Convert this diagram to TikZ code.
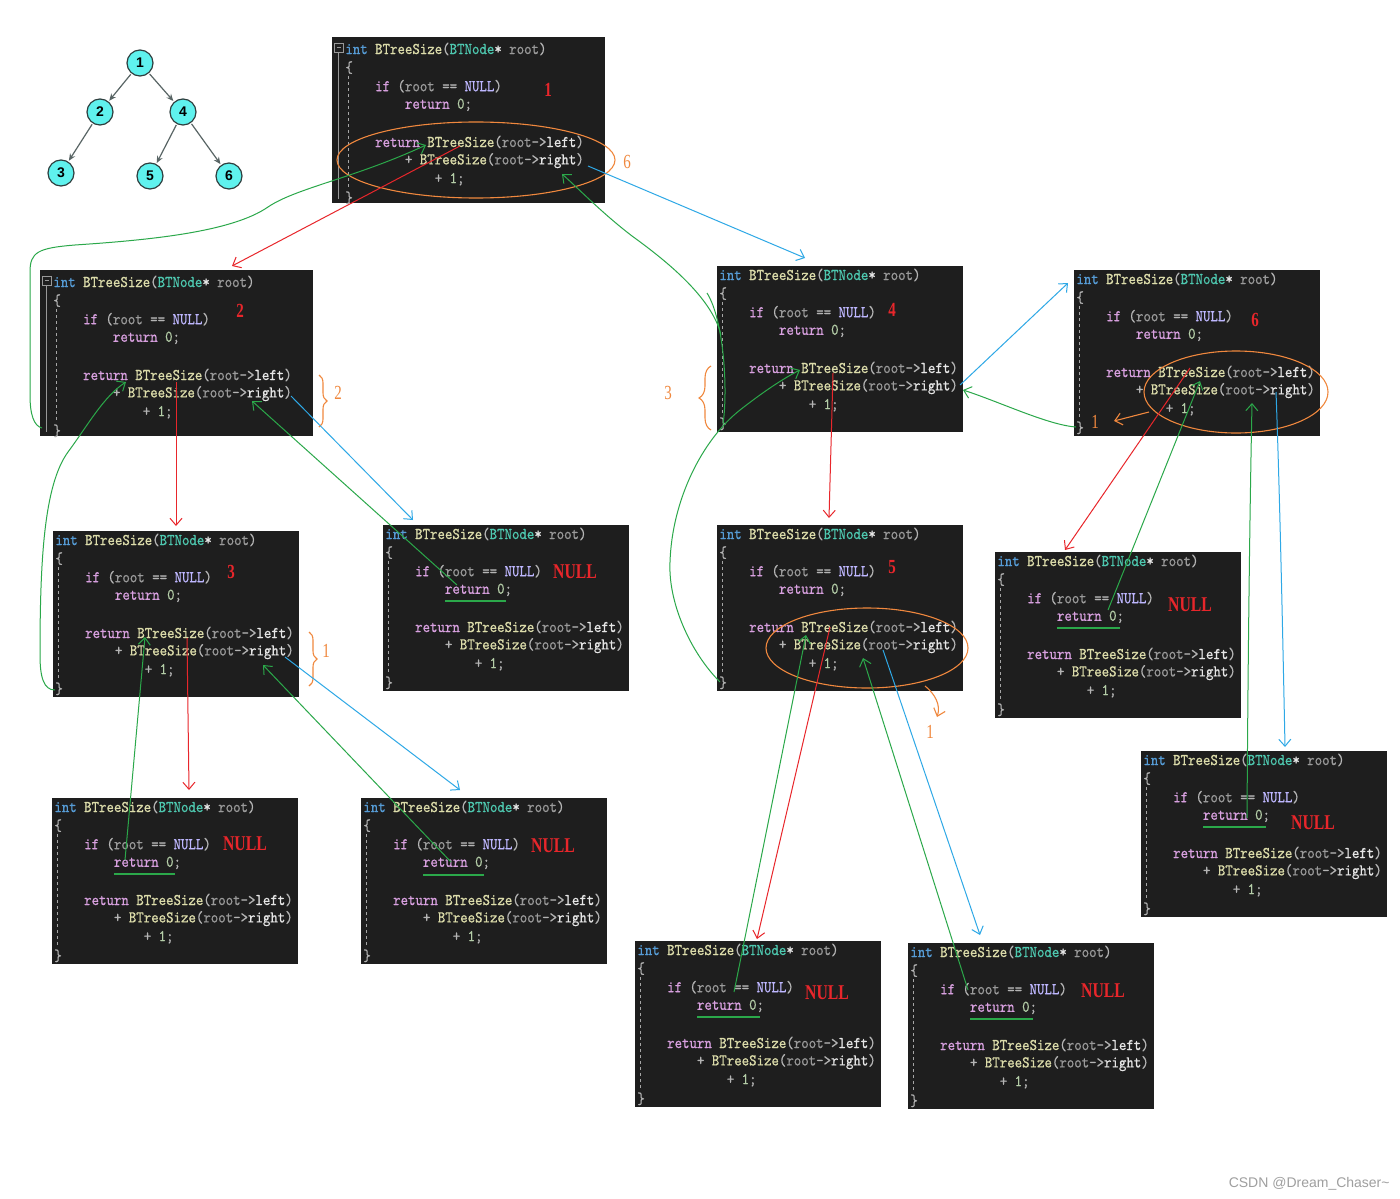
\documentclass[tikz,border=0pt]{standalone}
\usepackage{fontspec}
\usetikzlibrary{arrows.meta,decorations.pathreplacing,shapes.geometric}
\newfontfamily\codefont{lmmono10-regular.otf}[FakeStretch=0.865,FakeBold=0.6]
\newfontfamily\annfont[FakeStretch=0.75]{Liberation Serif}
\newfontfamily\sansf{Liberation Sans}
\definecolor{bg}{HTML}{1E1E1E}
\definecolor{cint}{HTML}{569CD6}
\definecolor{cfun}{HTML}{DCDCAA}
\definecolor{ctype}{HTML}{4EC9B0}
\definecolor{cparam}{HTML}{9A9A9A}
\definecolor{ckw}{HTML}{D8A0DF}
\definecolor{cmac}{HTML}{BEB7FF}
\definecolor{cnum}{HTML}{B5CEA8}
\definecolor{ctext}{HTML}{B4B4B4}
\definecolor{cwhite}{HTML}{E6E6E6}
\definecolor{annred}{HTML}{E8262B}
\definecolor{annblue}{HTML}{2EA8E6}
\definecolor{anngreen}{HTML}{2BA84A}
\definecolor{annorange}{HTML}{F0883E}
\definecolor{treefill}{HTML}{5FF2EE}
\definecolor{treeline}{HTML}{2F3F3F}
\newcommand\codeLa{\textcolor{cint}{int} \textcolor{cfun}{BTreeSize}(\textcolor{ctype}{BTNode}\textcolor{cwhite}{*} \textcolor{cparam}{root})}
\newcommand\codeLc{\textcolor{ckw}{if} (\textcolor{cparam}{root} == \textcolor{cmac}{NULL})}
\newcommand\codeLd{\textcolor{ckw}{return} \textcolor{cnum}{0};}
\newcommand\codeLe{\textcolor{ckw}{return} \textcolor{cfun}{BTreeSize}(\textcolor{cparam}{root}->\textcolor{cwhite}{left})}
\newcommand\codeLf{+ \textcolor{cfun}{BTreeSize}(\textcolor{cparam}{root}->\textcolor{cwhite}{right})}
\newcommand\codeLg{+ \textcolor{cnum}{1};}
\tikzset{
  x=0.5pt, y=-0.5pt,
  codebg/.style={fill=bg, draw=none, inner sep=0pt, outer sep=0pt, anchor=north west, minimum height=83pt},
  code/.style={anchor=west, inner sep=0pt, text=ctext, font=\codefont\fontsize{8.2}{9}\selectfont},
  guide/.style={draw=gray!70, dashed, dash pattern=on 1.5pt off 1.5pt, line width=0.4pt},
  rednum/.style={text=annred, inner sep=0pt, font=\annfont\bfseries\fontsize{10}{10}\selectfont},
  rednull/.style={text=annred, inner sep=0pt, font=\annfont\bfseries\fontsize{10.5}{10}\selectfont},
  ornum/.style={text=annorange, inner sep=0pt, font=\annfont\fontsize{10}{10}\selectfont},
  tip/.style={-{Straight Barb[length=3.5pt,width=6pt]}},
  redl/.style={draw=annred, line width=0.5pt, tip},
  bluel/.style={draw=annblue, line width=0.5pt, tip},
  greenl/.style={draw=anngreen, line width=0.5pt, tip},
  greenu/.style={draw=anngreen, line width=0.6pt},
  orl/.style={draw=annorange, line width=0.55pt},
  orell/.style={ellipse, draw=annorange, line width=0.55pt, inner sep=0pt},
  tnode/.style={circle, draw=treeline, fill=treefill, line width=0.6pt, minimum size=13pt, inner sep=0pt, font=\sansf\bfseries\fontsize{7}{7}\selectfont},
  tedge/.style={draw=treeline!80, line width=0.6pt, -{Stealth[length=3.5pt,width=3pt]}, shorten <=0.5pt, shorten >=0.5pt}
}
\newcommand\codebox[6]{%
  \node[codebg, minimum width=#6] (#1) at (#2,#3) {};
  \begin{scope}[shift={(#2+#4,#3+#5)}]
    \draw[guide] (5,36) -- (5,148);
    \node[code] (#1-a) at (2,9) {\codeLa};
    \node[code] (#1-b) at (2,27.6) {\{};
    \node[code] (#1-c) at (31.8,46.2) {\codeLc};
    \node[code] (#1-d) at (61.6,64.8) {\codeLd};
    \node[code] (#1-e) at (31.8,102) {\codeLe};
    \node[code] (#1-f) at (61.6,120.6) {\codeLf};
    \node[code] (#1-g) at (91.4,139.2) {\codeLg};
    \node[code] (#1-h) at (2,157.8) {\}};
  \end{scope}}
\newcommand\widemark[2]{%
  \begin{scope}[shift={(#1,#2)}]
    \draw[gray!80, line width=0.4pt] (2.5,6.5) rectangle (11,15);
    \draw[gray!80, line width=0.4pt] (4.5,10.75) -- (9,10.75);
    \draw[gray!80, line width=0.4pt] (6.75,15) -- (6.75,162);
  \end{scope}}
\begin{document}
\begin{tikzpicture}
\useasboundingbox (0,0) rectangle (1400,1198);
\fill[white] (0,0) rectangle (1400,1198);

% ---------- tree ----------
\node[tnode] (t1) at (140,63) {1};
\node[tnode] (t2) at (100,112) {2};
\node[tnode] (t4) at (183,112) {4};
\node[tnode] (t3) at (61,173) {3};
\node[tnode] (t5) at (150,176) {5};
\node[tnode] (t6) at (229,176) {6};
\draw[tedge] (t1) -- (t2);
\draw[tedge] (t1) -- (t4);
\draw[tedge] (t2) -- (t3);
\draw[tedge] (t4) -- (t5);
\draw[tedge] (t4) -- (t6);

% ---------- code boxes ----------
\codebox{B1}{332}{37}{11}{3}{136.5pt}
\widemark{332}{37}
\codebox{B2}{40}{270}{11}{3}{136.5pt}
\widemark{40}{270}
\codebox{B3}{53}{531}{0}{0}{123pt}
\codebox{N1}{383}{525}{0}{0}{123pt}
\codebox{N2}{52}{798}{0}{0}{123pt}
\codebox{N3}{361}{798}{0}{0}{123pt}
\codebox{B4}{717}{266}{0}{0}{123pt}
\codebox{B6}{1074}{270}{0}{0}{123pt}
\codebox{B5}{717}{525}{0}{0}{123pt}
\codebox{N4}{995}{552}{0}{0}{123pt}
\codebox{N5}{1141}{751}{0}{0}{123pt}
\codebox{N6}{635}{941}{0}{0}{123pt}
\codebox{N7}{908}{943}{0}{0}{123pt}

% ---------- red step numbers ----------
\node[rednum] (n1) at (548,90) {1};
\node[rednum] (n2) at (240,311) {2};
\node[rednum] (n3) at (231,572) {3};
\node[rednum] (n4) at (892,310) {4};
\node[rednum] (n5) at (892,567) {5};
\node[rednum] (n6) at (1255,320) {6};
\node[rednull] (u1) at (575,572) {NULL};
\node[rednull] (u2) at (245,844) {NULL};
\node[rednull] (u3) at (553,846) {NULL};
\node[rednull] (u4) at (1190,605) {NULL};
\node[rednull] (u5) at (1313,823) {NULL};
\node[rednull] (u6) at (827,993) {NULL};
\node[rednull] (u7) at (1103,991) {NULL};

% ---------- green underlines of "return 0;" ----------
\draw[greenu] (445,601) -- (506,601);
\draw[greenu] (114,874) -- (175,874);
\draw[greenu] (423,875) -- (484,875);
\draw[greenu] (1057,628) -- (1120,628);
\draw[greenu] (1203,827) -- (1266,827);
\draw[greenu] (697,1017) -- (760,1017);
\draw[greenu] (970,1019) -- (1033,1019);

% ---------- orange marks ----------
\node[orell, minimum width=139pt, minimum height=38pt] (E1) at (476,160) {};
\node[ornum] (o6) at (627,162) {6};
\node[orell, minimum width=101pt, minimum height=40pt] (E2) at (867,648) {};
\node[orell, minimum width=92pt, minimum height=41pt] (E3) at (1236,392) {};
\draw[orl, decorate, decoration={brace, amplitude=4pt}] (319,375) -- (319,427);
\node[ornum] (o2) at (338,393) {2};
\draw[orl, decorate, decoration={brace, amplitude=4pt}] (309,632) -- (309,686);
\node[ornum] (o1a) at (326,651) {1};
\draw[orl, decorate, decoration={brace, amplitude=6pt}] (711,430) -- (711,366);
\node[ornum] (o3) at (668,393) {3};
\coordinate (ob6s) at (1149,412);
\coordinate (ob6e) at (1114,421);
\draw[orl, tip] (ob6s) -- (ob6e);
\node[ornum] (o1b) at (1095,422) {1};
\coordinate (ob5s) at (925,686);
\coordinate (ob5e) at (937,717);
\draw[orl, tip] (ob5s) .. controls (935,694) and (941,705) .. (ob5e);
\node[ornum] (o1c) at (930,732) {1};

% ---------- red calls (left) ----------
\coordinate (r1s) at (460,146); \coordinate (r1e) at (232,266);
\coordinate (r2s) at (176,382); \coordinate (r2e) at (176,526);
\coordinate (r3s) at (187,638); \coordinate (r3e) at (189,790);
\coordinate (r4s) at (833,373); \coordinate (r4e) at (829,518);
\coordinate (r5s) at (830,627); \coordinate (r5e) at (757,939);
\coordinate (r6s) at (1190,368); \coordinate (r6e) at (1065,550);
\draw[redl] (r1s) -- (r1e);
\draw[redl] (r2s) -- (r2e);
\draw[redl] (r3s) -- (r3e);
\draw[redl] (r4s) -- (r4e);
\draw[redl] (r5s) -- (r5e);
\draw[redl] (r6s) -- (r6e);

% ---------- blue calls (right) ----------
\coordinate (b1s) at (588,166); \coordinate (b1e) at (805,258);
\coordinate (b2s) at (291,396); \coordinate (b2e) at (413,520);
\coordinate (b3s) at (285,657); \coordinate (b3e) at (460,790);
\coordinate (b4s) at (960,385); \coordinate (b4e) at (1068,283);
\coordinate (b5s) at (883,650); \coordinate (b5e) at (980,935);
\coordinate (b6s) at (1276,392); \coordinate (b6e) at (1285,747);
\draw[bluel] (b1s) -- (b1e);
\draw[bluel] (b2s) -- (b2e);
\draw[bluel] (b3s) -- (b3e);
\draw[bluel] (b4s) -- (b4e);
\draw[bluel] (b5s) -- (b5e);
\draw[bluel] (b6s) .. controls (1280,500) and (1283,650) .. (b6e);

% ---------- green returns ----------
\coordinate (g1s) at (125,860); \coordinate (g1e) at (145,637);
\coordinate (g2s) at (451,862); \coordinate (g2e) at (263,665);
\coordinate (g3s) at (55,690);  \coordinate (g3e) at (126,382);
\coordinate (g4s) at (457,585); \coordinate (g4e) at (252,401);
\coordinate (g5s) at (42,428);  \coordinate (g5e) at (426,145);
\coordinate (g6s) at (734,992); \coordinate (g6e) at (806,635);
\coordinate (g7s) at (968,990); \coordinate (g7e) at (863,658);
\coordinate (g8s) at (720,682); \coordinate (g8e) at (800,370);
\coordinate (g10s) at (1076,427); \coordinate (g10e) at (963,390);
\coordinate (g11s) at (721,335); \coordinate (g11e) at (562,174);
\coordinate (g12s) at (1108,610); \coordinate (g12e) at (1200,381);
\coordinate (g13s) at (1247,818); \coordinate (g13e) at (1252,403);
\draw[greenl] (g1s) -- (g1e);
\draw[greenl] (g2s) -- (g2e);
\draw[greenl] (g3s) .. controls (44,690) and (40,678) .. (40,655)
   .. controls (40,560) and (44,485) .. (68,452)
   .. controls (88,425) and (104,396) .. (g3e);
\draw[greenl] (g4s) -- (g4e);
\draw[greenl] (g5s) .. controls (34,426) and (30,415) .. (30,395)
   -- (30,272) .. controls (30,252) and (38,248) .. (75,245)
   .. controls (150,240) and (232,232) .. (268,207)
   .. controls (296,188) and (355,178) .. (g5e);
\draw[greenl] (g6s) -- (g6e);
\draw[greenl] (g7s) -- (g7e);
\draw[greenl] (g8s) .. controls (690,652) and (668,602) .. (670,562)
   .. controls (672,500) and (702,440) .. (740,410)
   .. controls (768,388) and (788,376) .. (g8e);
\draw[anngreen, line width=0.5pt] (707,293) .. controls (724,320) and (728,390) .. (723,424);
\draw[greenl] (g10s) .. controls (1048,425) and (1000,402) .. (g10e);
\draw[greenl] (g11s) .. controls (712,298) and (668,262) .. (632,236)
   .. controls (602,213) and (580,190) .. (g11e);
\draw[greenl] (g12s) -- (g12e);
\draw[greenl] (g13s) .. controls (1248,650) and (1250,500) .. (g13e);

% ---------- watermark ----------
\node[anchor=east, inner sep=0pt, text=gray!75, font=\sansf\fontsize{7}{7}\selectfont] (wm) at (1390,1184) {CSDN @Dream\_Chaser\textasciitilde};
\end{tikzpicture}
\end{document}
